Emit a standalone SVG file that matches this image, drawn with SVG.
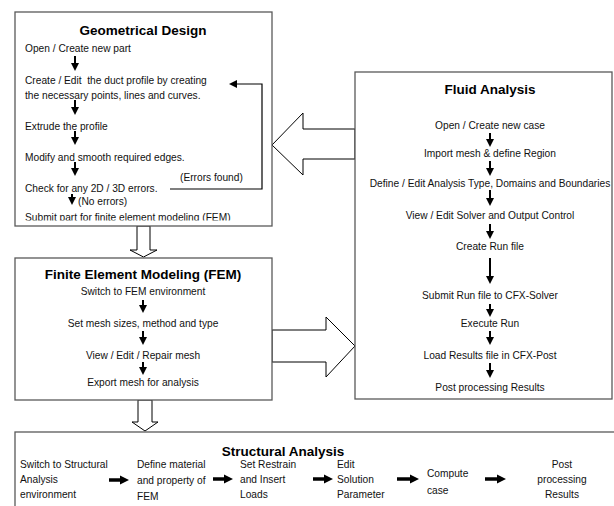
<svg xmlns="http://www.w3.org/2000/svg" width="614" height="506" viewBox="0 0 614 506">
<defs>
<style>
.box{fill:#fff;stroke:#595959;stroke-width:1.3}
.big{fill:#fff;stroke:#000;stroke-width:1}
.t{font-family:"Liberation Sans",Arial,sans-serif;font-size:10.2px;fill:#111}
.c{text-anchor:middle}
.h{font-family:"Liberation Sans",Arial,sans-serif;font-size:13.5px;font-weight:bold;fill:#000;text-anchor:middle}
.a{stroke:#000;stroke-width:2;fill:none}
.a3{stroke:#000;stroke-width:3.5;fill:none}
.fb{stroke:#000;stroke-width:1.2;fill:none}
</style>
<marker id="ah" viewBox="0 0 10 10" refX="0" refY="5" markerWidth="9" markerHeight="8" markerUnits="userSpaceOnUse" orient="auto"><path d="M0,0 L10,5 L0,10 Z" fill="#000"/></marker>
<marker id="ahb" viewBox="0 0 10 10" refX="0" refY="5" markerWidth="9" markerHeight="10" markerUnits="userSpaceOnUse" orient="auto"><path d="M0,0 L10,5 L0,10 Z" fill="#000"/></marker>
<marker id="ahf" viewBox="0 0 10 10" refX="0" refY="5" markerWidth="11" markerHeight="8" markerUnits="userSpaceOnUse" orient="auto"><path d="M0,0 L10,5 L0,10 Z" fill="#000"/></marker>
<clipPath id="cl"><rect x="15" y="200" width="257" height="20.5"/></clipPath>
</defs>

<g id="connectors">
<polygon class="big" points="272,145 303,113 303,129 355,129 355,159 303,159 303,175"/>
<polygon class="big" points="272,330 326,330 326,317 355,346 326,377 326,362 272,362"/>
<polygon class="big" points="137,226 150,226 150,250 157,250 143.5,257 130,250 137,250"/>
<polygon class="big" points="138,400 152,400 152,422 158,422 145,431 132,422 138,422"/>
</g>

<g id="geometrical-design">
<rect class="box" x="15" y="12" width="257" height="214"/>
<text class="h" x="143" y="35">Geometrical Design</text>
<text class="t" x="25" y="51.5">Open / Create new part</text>
<line class="a" x1="75" y1="56" x2="75" y2="63" marker-end="url(#ah)"/>
<text class="t" x="25" y="83.5">Create / Edit&#160; the duct profile by creating</text>
<text class="t" x="25" y="98.5">the necessary points, lines and curves.</text>
<line class="a" x1="75" y1="100" x2="75" y2="107" marker-end="url(#ah)"/>
<text class="t" x="25" y="129.5">Extrude the profile</text>
<line class="a" x1="75" y1="131" x2="75" y2="137" marker-end="url(#ah)"/>
<text class="t" x="25" y="160.5">Modify and smooth required edges.</text>
<line class="a" x1="75" y1="162" x2="75" y2="168" marker-end="url(#ah)"/>
<text class="t" x="180" y="180.5">(Errors found)</text>
<text class="t" x="25" y="191.5">Check for any 2D / 3D errors.</text>
<line class="a" x1="72" y1="194" x2="72" y2="197" marker-end="url(#ah)"/>
<text class="t" x="78" y="204.5">(No errors)</text>
<text class="t" x="25" y="221" clip-path="url(#cl)">Submit part for finite element modeling (FEM)</text>
<path class="fb" d="M170,189 H262 V84 H237" marker-end="url(#ahf)"/>
</g>

<g id="fem">
<rect class="box" x="15" y="258" width="257" height="142"/>
<text class="h" x="143" y="279">Finite Element Modeling (FEM)</text>
<text class="t c" x="143" y="295">Switch to FEM environment</text>
<line class="a" x1="143" y1="300" x2="143" y2="305" marker-end="url(#ah)"/>
<text class="t c" x="143" y="326.5">Set mesh sizes, method and type</text>
<line class="a" x1="143" y1="331" x2="143" y2="337" marker-end="url(#ah)"/>
<text class="t c" x="143" y="358.5">View / Edit / Repair mesh</text>
<line class="a" x1="143" y1="362" x2="143" y2="367" marker-end="url(#ah)"/>
<text class="t c" x="143" y="386">Export mesh for analysis</text>
</g>

<g id="fluid-analysis">
<rect class="box" x="355" y="72" width="257" height="327"/>
<text class="h" x="490" y="94">Fluid Analysis</text>
<text class="t c" x="490" y="128.5">Open / Create new case</text>
<line class="a" x1="490" y1="133" x2="490" y2="139" marker-end="url(#ah)"/>
<text class="t c" x="490" y="156.5">Import mesh &amp; define Region</text>
<line class="a" x1="490" y1="161" x2="490" y2="168" marker-end="url(#ah)"/>
<text class="t c" x="490" y="186.5">Define / Edit Analysis Type, Domains and Boundaries</text>
<line class="a" x1="490" y1="190" x2="490" y2="198" marker-end="url(#ah)"/>
<text class="t c" x="490" y="218.5">View / Edit Solver and Output Control</text>
<line class="a" x1="490" y1="224" x2="490" y2="231" marker-end="url(#ah)"/>
<text class="t c" x="490" y="249.5">Create Run file</text>
<line class="a" x1="490" y1="258" x2="490" y2="276" marker-end="url(#ah)"/>
<text class="t c" x="490" y="299">Submit Run file to CFX-Solver</text>
<line class="a" x1="490" y1="304" x2="490" y2="309" marker-end="url(#ah)"/>
<text class="t c" x="490" y="326.5">Execute Run</text>
<line class="a" x1="490" y1="331" x2="490" y2="337" marker-end="url(#ah)"/>
<text class="t c" x="490" y="358.5">Load Results file in CFX-Post</text>
<line class="a" x1="490" y1="363" x2="490" y2="370" marker-end="url(#ah)"/>
<text class="t c" x="490" y="390.5">Post processing Results</text>
</g>

<g id="structural-analysis">
<rect class="box" x="15" y="432" width="610" height="90"/>
<text class="h" x="283" y="456">Structural Analysis</text>
<text class="t" x="20" y="468">Switch to Structural</text>
<text class="t" x="20" y="483">Analysis</text>
<text class="t" x="20" y="498">environment</text>
<line class="a3" x1="109" y1="480" x2="120" y2="480" marker-end="url(#ahb)"/>
<text class="t" x="137" y="468">Define material</text>
<text class="t" x="137" y="484">and property of</text>
<text class="t" x="137" y="500">FEM</text>
<line class="a3" x1="213" y1="479" x2="224" y2="479" marker-end="url(#ahb)"/>
<text class="t" x="240" y="468">Set Restrain</text>
<text class="t" x="240" y="483">and Insert</text>
<text class="t" x="240" y="498">Loads</text>
<line class="a3" x1="313" y1="479" x2="324" y2="479" marker-end="url(#ahb)"/>
<text class="t" x="337" y="468">Edit</text>
<text class="t" x="337" y="483">Solution</text>
<text class="t" x="337" y="498">Parameter</text>
<line class="a3" x1="397" y1="479" x2="410" y2="479" marker-end="url(#ahb)"/>
<text class="t" x="427" y="477">Compute</text>
<text class="t" x="427" y="494">case</text>
<line class="a3" x1="485" y1="479" x2="497" y2="479" marker-end="url(#ahb)"/>
<text class="t c" x="562" y="468">Post</text>
<text class="t c" x="562" y="483">processing</text>
<text class="t c" x="562" y="498">Results</text>
</g>
</svg>
